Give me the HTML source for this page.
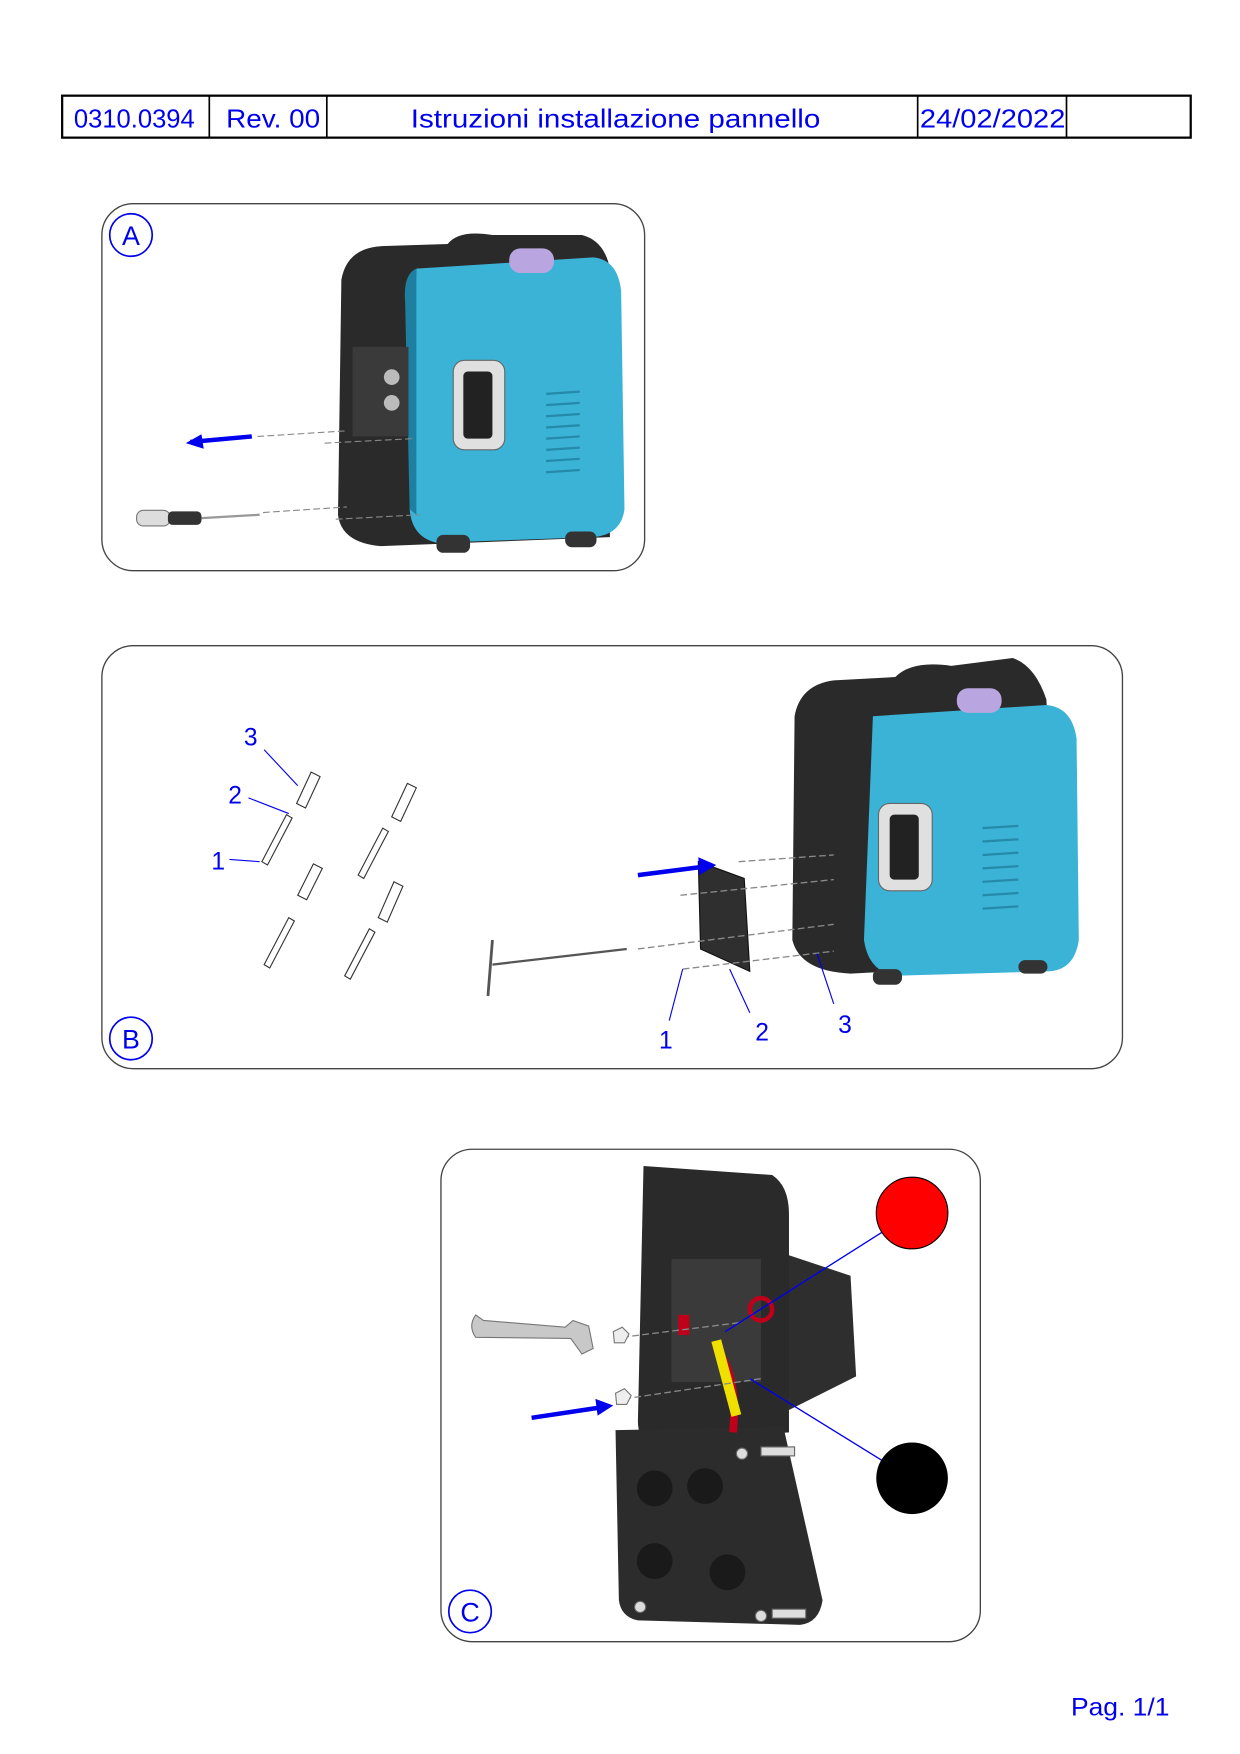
<!DOCTYPE html>
<html><head><meta charset="utf-8"><style>html,body{margin:0;padding:0;background:#fff}svg{display:block}</style></head>
<body>
<svg width="1240" height="1754" viewBox="0 0 1108 1567.4" xmlns="http://www.w3.org/2000/svg" font-family="Liberation Sans, sans-serif">
<!-- header -->
<rect x="55.5" y="85.5" width="1008.5" height="37.5" fill="none" stroke="#000" stroke-width="2"/>
<g stroke="#000" stroke-width="1.5"><line x1="187" y1="85" x2="187" y2="123"/><line x1="292" y1="85" x2="292" y2="123"/><line x1="820" y1="85" x2="820" y2="123"/><line x1="953" y1="85" x2="953" y2="123"/></g>
<g fill="#0000ee" font-size="23">
<text x="66" y="114" textLength="108" lengthAdjust="spacingAndGlyphs">0310.0394</text>
<text x="202" y="114" textLength="84" lengthAdjust="spacingAndGlyphs">Rev. 00</text>
<text x="367" y="114" textLength="366" lengthAdjust="spacingAndGlyphs">Istruzioni installazione pannello</text>
<text x="822" y="114" textLength="130" lengthAdjust="spacingAndGlyphs">24/02/2022</text>
</g>
<!-- boxes -->
<g fill="none" stroke="#444" stroke-width="1.2">
<rect x="91" y="182" width="485" height="328" rx="28"/>
<rect x="91" y="577" width="912" height="378" rx="28"/>
<rect x="394" y="1027" width="482" height="440" rx="28"/>
</g>
<g fill="none" stroke="#0000ee" stroke-width="1.5"><circle cx="117" cy="210" r="19"/><circle cx="117" cy="928" r="19"/><circle cx="420" cy="1440" r="19"/></g>
<g fill="#0000ee" font-size="24" text-anchor="middle"><text x="117" y="219">A</text><text x="117" y="937">B</text><text x="420" y="1449">C</text></g>

<!-- generator A -->
<g>
<path d="M305 250 Q310 222 340 220 L400 218 Q410 205 440 210 L520 210 Q540 215 545 240 L545 480 L340 488 Q305 485 302 460 Z" fill="#2a2a2a"/>
<path d="M372 240 L530 230 Q552 232 555 260 L558 455 Q555 478 530 480 L390 485 Q368 480 366 455 Z" fill="#3ab3d6"/>
<path d="M372 240 Q360 245 362 270 L366 455 L372 460 Z" fill="#1e7fa0"/>
<rect x="455" y="222" width="40" height="22" rx="10" fill="#b9a6e0"/>
<rect x="405" y="322" width="46" height="80" rx="10" fill="#e0e0e0" stroke="#666"/>
<rect x="414" y="332" width="26" height="60" rx="4" fill="#222"/>
<g stroke="#2589aa" stroke-width="2">
<line x1="488" y1="352" x2="518" y2="350"/><line x1="488" y1="362" x2="518" y2="360"/><line x1="488" y1="372" x2="518" y2="370"/><line x1="488" y1="382" x2="518" y2="380"/><line x1="488" y1="392" x2="518" y2="390"/><line x1="488" y1="402" x2="518" y2="400"/><line x1="488" y1="412" x2="518" y2="410"/><line x1="488" y1="422" x2="518" y2="420"/>
</g>
<rect x="315" y="310" width="50" height="80" fill="#3a3a3a"/>
<circle cx="350" cy="337" r="7" fill="#bbb"/><circle cx="350" cy="360" r="7" fill="#bbb"/>
<rect x="390" y="478" width="30" height="16" rx="6" fill="#333"/><rect x="505" y="475" width="28" height="14" rx="6" fill="#333"/>
<g stroke="#888" stroke-width="1" stroke-dasharray="6 3"><line x1="230" y1="390" x2="310" y2="385"/><line x1="290" y1="396" x2="368" y2="392"/><line x1="235" y1="458" x2="310" y2="453"/><line x1="300" y1="464" x2="375" y2="460"/></g>
<line x1="170" y1="395" x2="225" y2="390" stroke="#0000ee" stroke-width="4"/>
<polygon points="166,396 180,388 182,401" fill="#0000ee"/>
<rect x="122" y="456" width="30" height="14" rx="6" fill="#ddd" stroke="#777"/>
<rect x="150" y="457" width="30" height="12" rx="4" fill="#333"/>
<line x1="180" y1="463" x2="232" y2="460" stroke="#999" stroke-width="2"/>
</g>

<!-- generator B -->
<g>
<path d="M710 640 Q715 612 745 608 L800 605 Q815 590 850 595 L905 588 Q925 595 935 625 L950 860 L760 870 Q715 868 708 840 Z" fill="#2a2a2a"/>
<path d="M780 640 L935 630 Q958 632 962 660 L964 840 Q960 868 935 868 L800 872 Q776 868 772 840 Z" fill="#3ab3d6"/>
<rect x="855" y="615" width="40" height="22" rx="10" fill="#b9a6e0"/>
<rect x="785" y="718" width="48" height="78" rx="10" fill="#e0e0e0" stroke="#666"/>
<rect x="795" y="728" width="26" height="58" rx="4" fill="#222"/>
<g stroke="#2589aa" stroke-width="2"><line x1="878" y1="740" x2="910" y2="738"/><line x1="878" y1="752" x2="910" y2="750"/><line x1="878" y1="764" x2="910" y2="762"/><line x1="878" y1="776" x2="910" y2="774"/><line x1="878" y1="788" x2="910" y2="786"/><line x1="878" y1="800" x2="910" y2="798"/><line x1="878" y1="812" x2="910" y2="810"/></g>
<rect x="780" y="866" width="26" height="14" rx="6" fill="#333"/><rect x="910" y="858" width="26" height="12" rx="6" fill="#333"/>
<polygon points="624,770 665,785 670,868 626,848" fill="#2f2f2f" stroke="#111"/>
<g stroke="#888" stroke-width="1.2" stroke-dasharray="6 3"><line x1="660" y1="770" x2="745" y2="764"/><line x1="608" y1="800" x2="745" y2="786"/><line x1="570" y1="848" x2="745" y2="826"/><line x1="610" y1="866" x2="745" y2="850"/></g>
<line x1="570" y1="782" x2="625" y2="775" stroke="#0000ee" stroke-width="4"/>
<polygon points="640,773 624,766 625,782" fill="#0000ee"/>
<line x1="440" y1="862" x2="560" y2="848" stroke="#555" stroke-width="2"/>
<line x1="440" y1="840" x2="436" y2="890" stroke="#555" stroke-width="2.5"/>
<!-- spacers -->
<g stroke="#333" stroke-width="1" fill="#fff">
<path d="M265 718 L278 690 L286 694 L273 722 Z"/><path d="M234 770 L256 728 L261 731 L239 773 Z"/>
<path d="M350 730 L364 700 L372 704 L358 734 Z"/><path d="M320 782 L342 740 L347 743 L325 785 Z"/>
<path d="M266 800 L280 772 L288 776 L274 804 Z"/><path d="M236 862 L258 820 L263 823 L241 865 Z"/>
<path d="M338 820 L352 788 L360 792 L346 824 Z"/><path d="M308 872 L330 830 L335 833 L313 875 Z"/>
</g>
</g>
<g stroke="#0000ee" stroke-width="1"><line x1="236" y1="670" x2="266" y2="702"/><line x1="222" y1="713" x2="258" y2="727"/><line x1="205" y1="768" x2="232" y2="770"/><line x1="598" y1="912" x2="610" y2="866"/><line x1="670" y1="905" x2="652" y2="866"/><line x1="745" y1="897" x2="730" y2="852"/></g>
<g fill="#0000ee" font-size="22" text-anchor="middle"><text x="224" y="666">3</text><text x="210" y="718">2</text><text x="195" y="777">1</text><text x="595" y="937">1</text><text x="681" y="930">2</text><text x="755" y="923">3</text></g>

<!-- panel C -->
<g>
<polygon points="700,1120 760,1140 765,1230 705,1260" fill="#2e2e2e"/>
<path d="M575 1042 L690 1050 Q705 1060 705 1085 L705 1280 L580 1290 Q570 1285 570 1270 Z" fill="#2a2a2a"/>
<rect x="600" y="1125" width="80" height="110" fill="#3a3a3a"/>
<path d="M550 1278 L700 1275 L735 1430 Q732 1450 715 1452 L570 1448 Q555 1445 553 1430 Z" fill="#2c2c2c"/>
<g fill="#1a1a1a"><circle cx="585" cy="1330" r="16"/><circle cx="630" cy="1328" r="16"/><circle cx="585" cy="1395" r="16"/><circle cx="650" cy="1405" r="16"/></g>
<path d="M640 1205 Q660 1230 655 1280" stroke="#c0001a" stroke-width="7" fill="none"/>
<path d="M640 1198 L658 1265" stroke="#f0e000" stroke-width="9"/>
<rect x="606" y="1175" width="10" height="18" fill="#c0001a"/>
<circle cx="680" cy="1170" r="10" fill="none" stroke="#c0001a" stroke-width="4"/>
<g fill="#ddd" stroke="#666"><circle cx="663" cy="1299" r="5"/><circle cx="572" cy="1436" r="5"/><circle cx="680" cy="1444" r="5"/><rect x="680" y="1293" width="30" height="8"/><rect x="690" y="1438" width="30" height="8"/></g>
<g stroke="#888" stroke-width="1.2" stroke-dasharray="6 3"><line x1="556" y1="1195" x2="660" y2="1182"/><line x1="558" y1="1250" x2="680" y2="1232"/></g>
<polygon points="548,1190 556,1186 562,1192 558,1200 549,1200" fill="#eee" stroke="#777"/>
<polygon points="550,1245 558,1241 564,1247 560,1255 551,1255" fill="#eee" stroke="#777"/>
<path d="M425 1175 Q418 1185 425 1195 L510 1196 L520 1210 L530 1205 L526 1185 L512 1180 L505 1186 L432 1180 Z" fill="#c8c8c8" stroke="#777"/>
<line x1="475" y1="1267" x2="535" y2="1258" stroke="#0000ee" stroke-width="4"/>
<polygon points="548,1256 532,1250 534,1265" fill="#0000ee"/>
<line x1="648" y1="1190" x2="790" y2="1100" stroke="#0000ee" stroke-width="1.2"/>
<line x1="670" y1="1232" x2="788" y2="1305" stroke="#0000ee" stroke-width="1.2"/>
<circle cx="815" cy="1084" r="32" fill="#ff0000" stroke="#000"/>
<circle cx="815" cy="1321" r="32" fill="#000"/>
</g>

<text x="957" y="1533" fill="#0000ee" font-size="22" textLength="88" lengthAdjust="spacingAndGlyphs">Pag. 1/1</text>
</svg>
</body></html>
